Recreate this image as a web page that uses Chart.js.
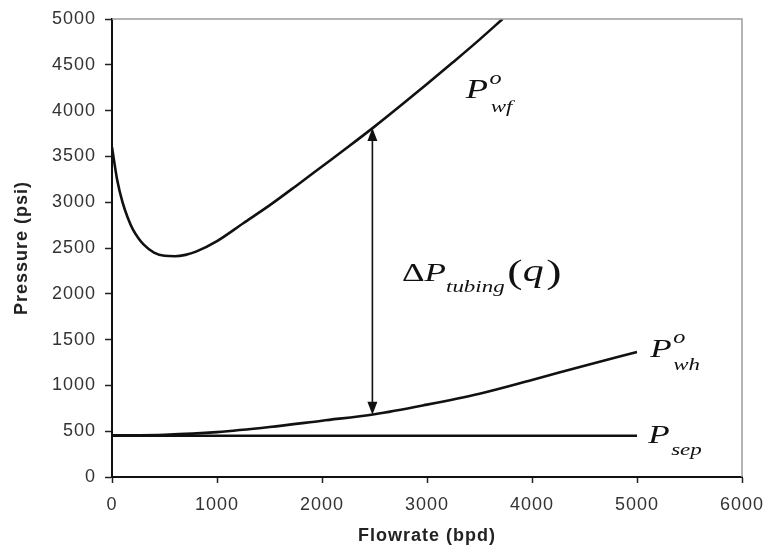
<!DOCTYPE html>
<html>
<head>
<meta charset="utf-8">
<script src="https://cdn.jsdelivr.net/npm/chart.js@4.4.1/dist/chart.umd.min.js"></script>
<style>
  html, body { margin: 0; padding: 0; background: #fff; }
  #wrap { width: 764px; height: 553px; }
</style>
</head>
<body>
<div id="wrap"><canvas id="chart" width="764" height="553"></canvas></div>
<script>
// ---- values ----
// bottomhole flowing pressure Pwf (psi) vs flowrate (bpd)
const flowWf = [0, 50, 100, 150, 200, 250, 300, 400, 500, 600, 700, 800, 1000, 1250, 1500, 1750, 2000, 2250, 2500, 2750, 3000, 3250, 3500, 3720];
const pwf    = [3600, 3240, 3000, 2830, 2700, 2610, 2540, 2450, 2415, 2410, 2425, 2460, 2575, 2770, 2965, 3175, 3390, 3605, 3825, 4055, 4290, 4530, 4775, 5000];

// wellhead pressure Pwh (psi)
const flowWh = [0, 500, 1000, 1500, 2000, 2500, 3000, 3500, 4000, 4500, 5000];
const pwh    = [455, 462, 490, 545, 615, 685, 790, 910, 1060, 1215, 1365];

// separator pressure (flat)
const flowSep = [0, 5000];
const psep    = [450, 450];

// double arrow for the tubing pressure drop
const arrowFlow = 2480;
const arrowTop = 3810;
const arrowBottom = 680;

// tick setup
const xTicks = [0, 1000, 2000, 3000, 4000, 5000, 6000];
const yTicks = [0, 500, 1000, 1500, 2000, 2500, 3000, 3500, 4000, 4500, 5000];

const SERIF = '"Liberation Serif", "DejaVu Serif", serif';
const SANS = '"Liberation Sans", Arial, sans-serif';

function toPoints(xs, ys) {
  return xs.map((v, i) => ({ x: v, y: ys[i] }));
}

// draws a small formula: parts go left to right, "stay" keeps the pen in place (super over sub)
function drawMath(ctx, x, y, parts) {
  ctx.save();
  ctx.translate(x, y);
  ctx.scale(1.35, 1);
  ctx.fillStyle = '#111';
  ctx.textBaseline = 'alphabetic';
  let pen = 0;
  parts.forEach(p => {
    ctx.font = `${p.it ? 'italic ' : ''}${p.size}px ${SERIF}`;
    ctx.fillText(p.t, pen + (p.dx || 0), p.dy || 0);
    if (!p.stay) pen += ctx.measureText(p.t).width + (p.dx || 0);
  });
  ctx.restore();
}

// labels, anchored in data units
const notes = [
  { at: [3370, 4137], parts: [
    { t: 'P', it: true, size: 27 },
    { t: 'o', it: true, size: 18, dy: -14, dx: 1, stay: true },
    { t: 'wf', it: true, size: 17, dy: 14, dx: 2 } ] },
  { at: [2762, 2140], parts: [
    { t: '\u0394', size: 26 },
    { t: 'P', it: true, size: 26 },
    { t: 'tubing', it: true, size: 17, dy: 11 },
    { t: '(', size: 34, dx: 2, dy: 2 },
    { t: 'q', it: true, size: 31 },
    { t: ')', size: 34, dx: 2, dy: 2 } ] },
  { at: [5127, 1310], parts: [
    { t: 'P', it: true, size: 26 },
    { t: 'o', it: true, size: 18, dy: -14, dx: 1, stay: true },
    { t: 'wh', it: true, size: 17, dy: 13, dx: 1 } ] },
  { at: [5108, 371], parts: [
    { t: 'P', it: true, size: 26 },
    { t: 'sep', it: true, size: 17, dy: 12, dx: 1 } ] }
];

const extras = {
  id: 'extras',
  beforeDraw(chart) {
    chart.ctx.letterSpacing = '1px';
  },
  afterDatasetsDraw(chart) {
    const { ctx, chartArea: a, scales: { x, y } } = chart;
    ctx.save();
    ctx.letterSpacing = '0px';

    // grey frame on top and right
    ctx.strokeStyle = '#9c9c9c';
    ctx.lineWidth = 1.5;
    ctx.beginPath();
    ctx.moveTo(a.left, a.top);
    ctx.lineTo(a.right, a.top);
    ctx.lineTo(a.right, a.bottom);
    ctx.stroke();

    // double headed arrow
    const ax = x.getPixelForValue(arrowFlow);
    const yt = y.getPixelForValue(arrowTop);
    const yb = y.getPixelForValue(arrowBottom);
    ctx.strokeStyle = '#111';
    ctx.fillStyle = '#111';
    ctx.lineWidth = 1.6;
    ctx.beginPath();
    ctx.moveTo(ax, yt + 10);
    ctx.lineTo(ax, yb - 10);
    ctx.stroke();
    ctx.beginPath();
    ctx.moveTo(ax, yt);
    ctx.lineTo(ax - 5, yt + 13);
    ctx.lineTo(ax + 5, yt + 13);
    ctx.closePath();
    ctx.fill();
    ctx.beginPath();
    ctx.moveTo(ax, yb);
    ctx.lineTo(ax - 5, yb - 13);
    ctx.lineTo(ax + 5, yb - 13);
    ctx.closePath();
    ctx.fill();

    notes.forEach(n => {
      drawMath(ctx, x.getPixelForValue(n.at[0]), y.getPixelForValue(n.at[1]), n.parts);
    });
    ctx.restore();
  },
  afterDraw(chart) {
    chart.ctx.letterSpacing = '0px';
  }
};

const lineStyle = {
  borderColor: '#111',
  borderWidth: 2.6,
  pointRadius: 0,
  fill: false,
  cubicInterpolationMode: 'monotone'
};

new Chart(document.getElementById('chart'), {
  type: 'line',
  data: {
    datasets: [
      { label: 'Pwf', data: toPoints(flowWf, pwf), ...lineStyle },
      { label: 'Pwh', data: toPoints(flowWh, pwh), ...lineStyle },
      { label: 'Psep', data: toPoints(flowSep, psep), ...lineStyle, borderWidth: 2.4 }
    ]
  },
  options: {
    responsive: false,
    animation: false,
    events: [],
    layout: { padding: { left: 0, top: 19, right: 22, bottom: 0 } },
    plugins: { legend: { display: false }, tooltip: { enabled: false } },
    scales: {
      x: {
        type: 'linear',
        min: 0,
        max: 6000,
        afterFit: s => { s.height = 76; s.paddingLeft = 0; s.paddingRight = 0; },
        afterBuildTicks: s => { s.ticks = xTicks.map(v => ({ value: v })); },
        grid: { drawOnChartArea: false, drawTicks: true, tickLength: 6, tickColor: '#222', tickWidth: 1.5 },
        border: { color: '#111', width: 2 },
        ticks: { color: '#333', padding: 11, font: { family: SANS, size: 18 }, callback: v => String(v) },
        title: { display: true, text: 'Flowrate (bpd)', color: '#222', padding: { top: 0, bottom: 6 },
                 font: { family: SANS, size: 18, weight: 'bold' } }
      },
      y: {
        min: 0,
        max: 5000,
        afterFit: s => { s.width = 112; s.paddingTop = 0; s.paddingBottom = 0; },
        afterBuildTicks: s => { s.ticks = yTicks.map(v => ({ value: v })); },
        grid: { drawOnChartArea: false, drawTicks: true, tickLength: 7, tickColor: '#222', tickWidth: 1.5 },
        border: { color: '#111', width: 2 },
        ticks: { color: '#333', padding: 9, font: { family: SANS, size: 18 }, callback: v => String(v) },
        title: { display: true, text: 'Pressure (psi)', color: '#222', padding: { top: 11, bottom: 0 },
                 font: { family: SANS, size: 18, weight: 'bold' } }
      }
    }
  },
  plugins: [extras]
});
</script>
</body>
</html>
